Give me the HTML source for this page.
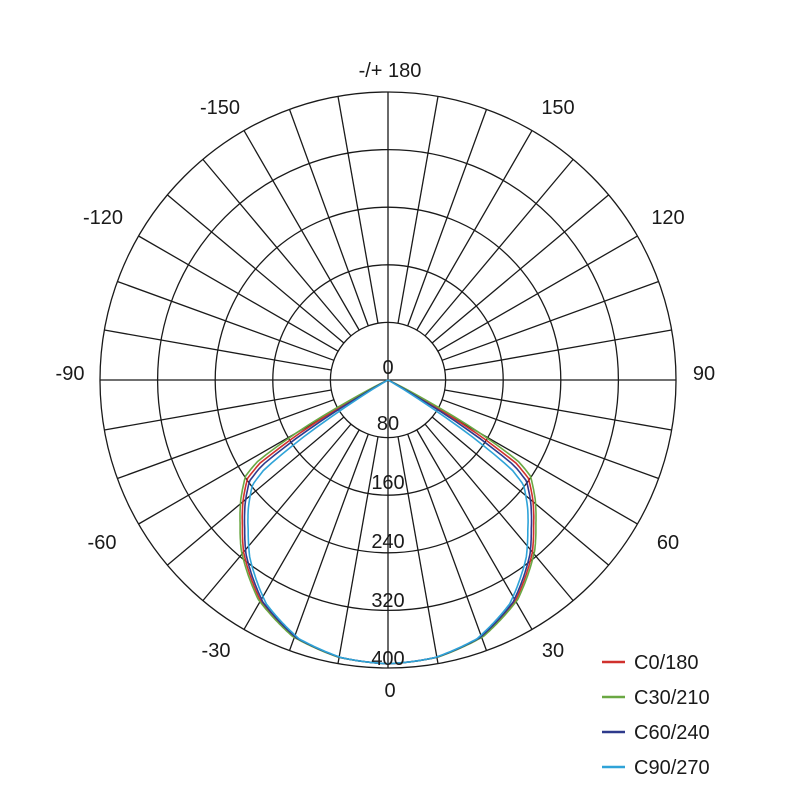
<!DOCTYPE html>
<html><head><meta charset="utf-8"><style>
html,body{margin:0;padding:0;background:#fff;}
svg text{font-family:"Liberation Sans","DejaVu Sans",sans-serif;fill:#1a1a1a;}
</style></head><body>
<svg id="s" width="800" height="800" viewBox="0 0 800 800" xmlns="http://www.w3.org/2000/svg">
<g id="grid" stroke="#1a1a1a" stroke-width="1.3" fill="none"></g>
<g id="curves" fill="none" stroke-width="1.6"></g>
<g font-size="20" text-anchor="middle">
<text x="390" y="77">-/+ 180</text>
<text x="558" y="114">150</text>
<text x="220" y="114">-150</text>
<text x="668" y="224">120</text>
<text x="103" y="224">-120</text>
<text x="704" y="380">90</text>
<text x="70" y="380">-90</text>
<text x="668" y="549">60</text>
<text x="102" y="549">-60</text>
<text x="553" y="657">30</text>
<text x="216" y="657">-30</text>
<text x="390" y="697">0</text>
<text x="388" y="374">0</text>
<text x="388" y="430">80</text>
<text x="388" y="489">160</text>
<text x="388" y="548">240</text>
<text x="388" y="607">320</text>
<text x="388" y="665">400</text>
</g>
<g font-size="20">
<line x1="602" y1="662" x2="625" y2="662" stroke="#d0312d" stroke-width="2.5"/><text x="634" y="669">C0/180</text>
<line x1="602" y1="697" x2="625" y2="697" stroke="#6aa843" stroke-width="2.5"/><text x="634" y="704">C30/210</text>
<line x1="602" y1="732" x2="625" y2="732" stroke="#2e3a8c" stroke-width="2.5"/><text x="634" y="739">C60/240</text>
<line x1="602" y1="767" x2="625" y2="767" stroke="#2fa3d8" stroke-width="2.5"/><text x="634" y="774">C90/270</text>
</g>
</svg>
<script>
var cx=388,cy=380,R=288,ns="http://www.w3.org/2000/svg";
var g=document.getElementById("grid"),c=document.getElementById("curves");
function el(p,t,a){var e=document.createElementNS(ns,t);for(var k in a)e.setAttribute(k,a[k]);p.appendChild(e);return e;}
for(var i=1;i<=5;i++)el(g,"circle",{cx:cx,cy:cy,r:R*i/5});
for(var a=0;a<360;a+=10){var t=a*Math.PI/180,s=Math.sin(t),co=Math.cos(t);
 var r0=(a%90==0)?0:R/5;
 el(g,"line",{x1:cx+r0*s,y1:cy+r0*co,x2:cx+R*s,y2:cy+R*co});}
var base=[[0,394],[10,391],[20,380],[30,354],[40,312],[45,286],[50,263],[55,238],[57,212],[59,140],[61,50],[63,5],[64,0],[90,0]];
function interp(d){d=Math.abs(d);for(var i=0;i<base.length-1;i++){if(d<=base[i+1][0]){var f=(d-base[i][0])/(base[i+1][0]-base[i][0]);return base[i][1]+f*(base[i+1][1]-base[i][1]);}}return 0;}
var series=[["#d0312d",1.0],["#6aa843",1.02],["#2e3a8c",0.98],["#2fa3d8",0.95]];
series.forEach(function(sr){var pts=[];
 for(var d=-90;d<=90;d+=0.5){var v=interp(d/sr[1]);
  var r=v*0.72,t=d*Math.PI/180;pts.push((cx+r*Math.sin(t)).toFixed(1)+","+(cy+r*Math.cos(t)).toFixed(1));}
 el(c,"polyline",{points:pts.join(" "),stroke:sr[0]});});
</script>
</body></html>
